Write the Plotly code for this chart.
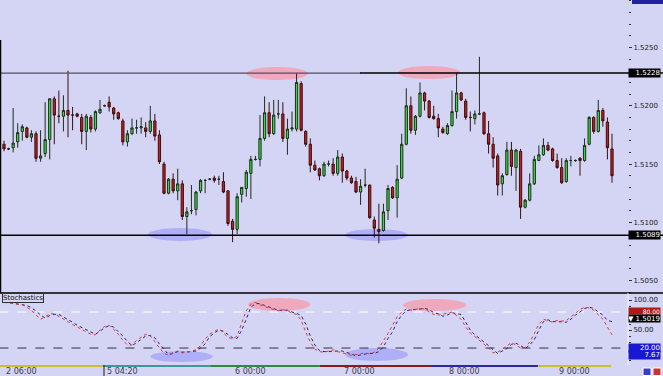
import plotly.graph_objects as go

# ---------------- data ----------------
open_ = [1.5167,1.5163,1.5164,1.5169,1.5178,1.5181,1.5173,1.5176,1.5155,1.5159,1.5171,1.5206,1.5191,1.5191,1.5196,1.5192,1.5193,1.5190,1.5178,1.5190,
         1.5180,1.5194,1.5200,1.5203,1.5198,1.5194,1.5187,1.5169,1.5176,1.5181,1.5181,1.5181,1.5178,1.5187,1.5175,1.5150,1.5125,1.5137,1.5127,1.5133,
         1.5105,1.5110,1.5111,1.5127,1.5136,1.5137,1.5138,1.5137,1.5135,1.5127,1.5101,1.5094,1.5124,1.5129,1.5142,1.5154,1.5154,1.5172,1.5194,1.5176,
         1.5193,1.5193,1.5172,1.5180,1.5180,1.5219,1.5178,1.5167,1.5149,1.5146,1.5140,1.5150,1.5150,1.5142,1.5156,1.5144,1.5138,1.5135,1.5126,1.5132,
         1.5132,1.5102,1.5094,1.5093,1.5110,1.5130,1.5121,1.5138,1.5167,1.5200,1.5179,1.5191,1.5211,1.5204,1.5191,1.5189,1.5180,1.5176,1.5183,1.5195,
         1.5211,1.5204,1.5190,1.5189,1.5193,1.5194,1.5176,1.5167,1.5157,1.5133,1.5141,1.5162,1.5147,1.5161,1.5113,1.5119,1.5133,1.5153,1.5158,1.5166,
         1.5163,1.5153,1.5147,1.5135,1.5153,1.5153,1.5155,1.5153,1.5167,1.5190,1.5178,1.5196,1.5186,1.5163]
high = [1.5170,1.5164,1.5198,1.5185,1.5184,1.5182,1.5179,1.5178,1.5179,1.5203,1.5206,1.5208,1.5213,1.5209,1.5230,1.5199,1.5194,1.5193,1.5193,1.5192,
        1.5196,1.5205,1.5201,1.5208,1.5199,1.5195,1.5189,1.5179,1.5189,1.5188,1.5190,1.5186,1.5200,1.5193,1.5179,1.5152,1.5138,1.5142,1.5146,1.5136,
        1.5113,1.5132,1.5127,1.5137,1.5137,1.5138,1.5140,1.5140,1.5143,1.5127,1.5103,1.5125,1.5130,1.5145,1.5157,1.5157,1.5192,1.5208,1.5203,1.5205,
        1.5205,1.5203,1.5189,1.5195,1.5228,1.5221,1.5179,1.5172,1.5153,1.5147,1.5152,1.5153,1.5155,1.5162,1.5159,1.5145,1.5140,1.5139,1.5137,1.5146,
        1.5132,1.5105,1.5116,1.5116,1.5132,1.5131,1.5149,1.5176,1.5215,1.5208,1.5192,1.5220,1.5212,1.5205,1.5200,1.5193,1.5182,1.5185,1.5213,1.5228,
        1.5212,1.5206,1.5195,1.5196,1.5242,1.5195,1.5187,1.5173,1.5159,1.5142,1.5169,1.5169,1.5163,1.5163,1.5120,1.5142,1.5157,1.5166,1.5172,1.5169,
        1.5164,1.5159,1.5155,1.5155,1.5157,1.5154,1.5156,1.5172,1.5191,1.5191,1.5205,1.5198,1.5190,1.5176]
low = [1.5161,1.5162,1.5160,1.5164,1.5170,1.5172,1.5169,1.5152,1.5152,1.5156,1.5154,1.5167,1.5185,1.5178,1.5173,1.5179,1.5190,1.5167,1.5162,1.5177,
       1.5178,1.5193,1.5199,1.5195,1.5188,1.5188,1.5166,1.5165,1.5175,1.5176,1.5176,1.5173,1.5176,1.5170,1.5150,1.5124,1.5124,1.5125,1.5119,1.5102,
       1.5090,1.5107,1.5106,1.5125,1.5125,1.5136,1.5134,1.5132,1.5125,1.5097,1.5083,1.5090,1.5117,1.5122,1.5120,1.5153,1.5148,1.5170,1.5173,1.5175,
       1.5189,1.5169,1.5158,1.5178,1.5178,1.5178,1.5165,1.5143,1.5144,1.5136,1.5139,1.5148,1.5140,1.5140,1.5134,1.5136,1.5133,1.5125,1.5115,1.5130,
       1.5103,1.5087,1.5082,1.5092,1.5102,1.5120,1.5104,1.5137,1.5166,1.5176,1.5175,1.5190,1.5196,1.5189,1.5188,1.5173,1.5176,1.5175,1.5182,1.5189,
       1.5204,1.5188,1.5178,1.5184,1.5192,1.5175,1.5159,1.5147,1.5123,1.5123,1.5140,1.5140,1.5127,1.5103,1.5112,1.5118,1.5132,1.5153,1.5157,1.5161,
       1.5152,1.5146,1.5133,1.5134,1.5148,1.5152,1.5140,1.5152,1.5166,1.5176,1.5177,1.5182,1.5154,1.5134]
close = [1.5163,1.5163,1.5168,1.5177,1.5182,1.5173,1.5176,1.5155,1.5157,1.5171,1.5206,1.5192,1.5191,1.5196,1.5192,1.5192,1.5191,1.5178,1.5191,1.5180,
         1.5195,1.5197,1.5200,1.5199,1.5193,1.5189,1.5169,1.5176,1.5181,1.5181,1.5182,1.5178,1.5187,1.5174,1.5152,1.5125,1.5137,1.5127,1.5133,1.5105,
         1.5109,1.5110,1.5126,1.5136,1.5136,1.5137,1.5136,1.5137,1.5126,1.5099,1.5094,1.5122,1.5130,1.5143,1.5154,1.5154,1.5172,1.5194,1.5176,1.5192,
         1.5193,1.5172,1.5180,1.5181,1.5220,1.5179,1.5167,1.5149,1.5145,1.5140,1.5150,1.5150,1.5142,1.5156,1.5144,1.5138,1.5134,1.5126,1.5131,1.5132,
         1.5104,1.5095,1.5092,1.5109,1.5129,1.5121,1.5137,1.5167,1.5200,1.5179,1.5191,1.5211,1.5204,1.5190,1.5189,1.5181,1.5177,1.5183,1.5195,1.5211,
         1.5205,1.5190,1.5190,1.5193,1.5193,1.5176,1.5167,1.5155,1.5132,1.5140,1.5162,1.5148,1.5162,1.5113,1.5119,1.5133,1.5154,1.5158,1.5166,1.5162,
         1.5153,1.5147,1.5134,1.5153,1.5153,1.5153,1.5153,1.5166,1.5190,1.5178,1.5196,1.5187,1.5164,1.5140]

stoch_blue = [97,96,95,94,93,91,87,82,75,70,74,76,76,72,68,63,58,54,50,46,
              43,48,54,57,55,47,40,31,24,29,34,40,41,37,27,18,9,11,14,13,
              13,14,15,20,27,39,45,50,48,42,37,36,50,68,88,94,94,91,88,86,
              83,83,83,80,78,74,60,40,25,16,14,14,15,15,15,13,10,7,9,10,
              11,11,14,22,36,47,64,75,82,84,84,85,86,84,79,77,73,75,79,77,
              76,63,50,42,36,31,24,17,11,15,19,26,28,24,19,25,34,50,64,67,
              64,64,64,63,68,75,80,86,88,86,80,75,66,64]
stoch_red = [96,95,94,93,92,88,83,75,68,72,77,77,73,69,64,59,55,51,46,43,
             42,50,56,58,51,43,33,25,25,33,38,43,40,31,20,11,8,13,15,12,
             13,15,17,24,35,43,48,52,45,38,35,40,62,82,93,96,92,89,87,84,
             82,84,82,78,76,66,47,30,18,14,13,15,17,14,12,9,8,9,11,12,
             10,13,20,31,44,58,72,80,85,83,85,86,85,81,76,75,76,78,80,74,
             68,55,45,39,33,27,20,12,13,18,24,29,25,20,21,30,44,60,68,65,
             63,66,65,66,72,78,84,88,87,83,76,68,55,42]

time_pos = [0, 22, 50, 74, 97, 121]
time_labels = ["2 06:00", "5 04:20", "6 00:00", "7 00:00", "8 00:00", "9 00:00"]

resistance = 1.5228
support = 1.5089
stoch_levels = [80, 20]

# day strip (candle-index boundaries) and colours
strip_edges = [-0.9, 21.7, 45.1, 69.1, 93.4, 116.8, 132.8]
strip_colors = ["#C8C030", "#3A9A9A", "#2E8B3E", "#8B1A1A", "#2A2A9A", "#C8C030"]

# highlight ellipses: (x0, x1, y0, y1) in candle index / price / stochastic units
tops_main = [(53, 66.5, 1.52220, 1.52332), (86.2, 99.8, 1.52229, 1.52341)]
bottoms_main = [(31.5, 45.5, 1.50840, 1.50951), (74.6, 88.4, 1.50840, 1.50943)]
tops_stoch = [(53.4, 67, 81.7, 103.3), (87.3, 101.1, 81.7, 101.7)]
bottoms_stoch = [(32, 45.7, -3.3, 15), (74.6, 88.4, -1.7, 20)]

# ---------------- figure ----------------
BG = "#D4D4F4"
W, H = 663, 376
XR = 628 / W
idx = list(range(len(open_)))

fig = go.Figure()
fig.add_trace(go.Candlestick(
    x=idx, open=open_, high=high, low=low, close=close,
    increasing=dict(fillcolor="#33E033", line=dict(color="#1E2E1E", width=1)),
    decreasing=dict(fillcolor="#C41E1E", line=dict(color="#3A1010", width=1)),
    whiskerwidth=0, showlegend=False, xaxis="x", yaxis="y"))

fig.add_trace(go.Scatter(x=idx, y=stoch_blue, mode="lines",
                         line=dict(color="#22228A", width=1, dash="dot"),
                         showlegend=False, xaxis="x2", yaxis="y2"))
fig.add_trace(go.Scatter(x=idx, y=stoch_red, mode="lines",
                         line=dict(color="#E03A2A", width=1, dash="dot"),
                         showlegend=False, xaxis="x2", yaxis="y2"))

shapes = []
# ellipses
for (x0, x1, y0, y1) in tops_main:
    shapes.append(dict(type="circle", xref="x", yref="y", x0=x0, x1=x1, y0=y0, y1=y1,
                       fillcolor="rgba(255,140,150,0.6)", line=dict(width=0), layer="below"))
for (x0, x1, y0, y1) in bottoms_main:
    shapes.append(dict(type="circle", xref="x", yref="y", x0=x0, x1=x1, y0=y0, y1=y1,
                       fillcolor="rgba(150,150,250,0.6)", line=dict(width=0), layer="below"))
for (x0, x1, y0, y1) in tops_stoch:
    shapes.append(dict(type="circle", xref="x2", yref="y2", x0=x0, x1=x1, y0=y0, y1=y1,
                       fillcolor="rgba(255,140,150,0.6)", line=dict(width=0), layer="below"))
for (x0, x1, y0, y1) in bottoms_stoch:
    shapes.append(dict(type="circle", xref="x2", yref="y2", x0=x0, x1=x1, y0=y0, y1=y1,
                       fillcolor="rgba(150,150,250,0.6)", line=dict(width=0), layer="below"))

# resistance line: grey on the left part, black on the right part
shapes.append(dict(type="line", xref="x", yref="y", x0=-1, x1=78, y0=resistance, y1=resistance,
                   line=dict(color="#505060", width=1.2)))
shapes.append(dict(type="line", xref="paper", yref="y", x0=360 / W, x1=1, y0=resistance, y1=resistance,
                   line=dict(color="#000000", width=1.5)))
# support line
shapes.append(dict(type="line", xref="paper", yref="y", x0=0, x1=1, y0=support, y1=support,
                   line=dict(color="#000000", width=1.5)))
# stochastic levels
shapes.append(dict(type="line", xref="x2", yref="y2", x0=-1, x1=136.5, y0=stoch_levels[0], y1=stoch_levels[0],
                   line=dict(color="#FFFFFF", width=1, dash="dash"), layer="below"))
shapes.append(dict(type="line", xref="x2", yref="y2", x0=-1, x1=136.5, y0=stoch_levels[1], y1=stoch_levels[1],
                   line=dict(color="#303040", width=1, dash="dash"), layer="below"))
# panel separators
y_sep = 1 - 293 / H
shapes.append(dict(type="line", xref="paper", yref="paper", x0=0, x1=1, y0=y_sep, y1=y_sep,
                   line=dict(color="#000000", width=1.5)))
shapes.append(dict(type="line", xref="paper", yref="paper", x0=0.5 / W, x1=0.5 / W, y0=y_sep, y1=1 - 40 / H,
                   line=dict(color="#000000", width=1.5)))
shapes.append(dict(type="line", xref="paper", yref="paper", x0=XR, x1=XR, y0=1 - 365 / H, y1=y_sep,
                   line=dict(color="#F4F4FF", width=1)))
# day colour strip
for i, c in enumerate(strip_colors):
    shapes.append(dict(type="rect", xref="x2", yref="paper", x0=strip_edges[i], x1=strip_edges[i + 1],
                       y0=1 - 367 / H, y1=1 - 365 / H, fillcolor=c, line=dict(width=0)))
shapes.append(dict(type="line", xref="paper", yref="paper", x0=104 / W, x1=104 / W, y0=0, y1=1 - 365 / H,
                   line=dict(color="#202020", width=1)))
# top-right blue tag and bottom-right icons
shapes.append(dict(type="rect", xref="paper", yref="paper", x0=632 / W, x1=1, y0=1 - 4 / H, y1=1,
                   fillcolor="#2020A0", line=dict(width=0)))
shapes.append(dict(type="rect", xref="paper", yref="paper", x0=643 / W, x1=651 / W, y0=0.5 / H, y1=8 / H,
                   fillcolor="#3A3AD0", line=dict(color="#FFFFFF", width=1)))
shapes.append(dict(type="rect", xref="paper", yref="paper", x0=653 / W, x1=661 / W, y0=0.5 / H, y1=8 / H,
                   fillcolor="#D03030", line=dict(color="#FFFFFF", width=1)))

font = dict(family="DejaVu Sans", size=7, color="#202020")
ann = []
for p, t in zip(time_pos, time_labels):
    ann.append(dict(x=p, y=1 - 371 / H, xref="x2", yref="paper", text=t, showarrow=False,
                    xanchor="left", yanchor="middle", font=dict(family="DejaVu Sans", size=8, color="#404048")))


def tag(y, yref, text, bg, h=8, size=7, fg="#FFFFFF"):
    ann.append(dict(x=XR, y=y, xref="paper", yref=yref, text=text, showarrow=False,
                    xanchor="left", yanchor="middle", bgcolor=bg, width=31, height=h, borderpad=0,
                    align="right", font=dict(family="DejaVu Sans", size=size, color=fg)))


tag(resistance, "y", "1.5228", "#000000")
tag(support, "y", "1.5089", "#000000")
tag(1 - 310.5 / H, "paper", "80.00", "#B01818", h=6, size=6)
tag(1 - 318 / H, "paper", "▼ 1.5019", "#000000", h=7, size=7)
tag(20, "y2", "20.00", "#1818D0")
tag(7.67, "y2", "7.67", "#1818D0")
ann.append(dict(x=2 / W, y=1 - 297.5 / H, xref="paper", yref="paper", text="Stochastics", showarrow=False,
                xanchor="left", yanchor="middle", bgcolor=BG, bordercolor="#303030", borderwidth=1, borderpad=0,
                font=dict(family="DejaVu Sans", size=7, color="#101010")))

fig.update_layout(
    width=W, height=H, margin=dict(l=0, r=0, t=0, b=0, autoexpand=False),
    paper_bgcolor=BG, plot_bgcolor=BG, showlegend=False,
    xaxis=dict(domain=[0, XR], range=[-0.875, 136.5], showgrid=False, zeroline=False,
               showticklabels=False, ticks="", rangeslider=dict(visible=False), anchor="y"),
    xaxis2=dict(domain=[0, XR], range=[-0.875, 136.5], showgrid=False, zeroline=False,
                showticklabels=False, ticks="", anchor="y2", matches="x"),
    yaxis=dict(domain=[1 - 293 / H, 1], range=[1.50394, 1.52907], side="right", anchor="x",
               showgrid=False, zeroline=False, tickvals=[1.5050, 1.5100, 1.5150, 1.5200, 1.5250],
               ticktext=["1.5050", "1.5100", "1.5150", "1.5200", "1.5250"],
               ticks="outside", ticklen=3, tickcolor="#303030", tickfont=font, automargin=False,
               minor=dict(dtick=0.001, tick0=1.5, ticks="outside", ticklen=2, tickcolor="#303030")),
    yaxis2=dict(domain=[1 - 365 / H, 1 - 293 / H], range=[-8.3, 111.7], side="right", anchor="x2",
                showgrid=False, zeroline=False, tickvals=[100, 50], ticktext=["100.00", "50.00"],
                ticks="outside", ticklen=3, tickcolor="#303030", tickfont=font, automargin=False,
                minor=dict(tickvals=[90, 80, 70, 60, 40, 30, 20, 10, 0], ticks="outside", ticklen=2,
                           tickcolor="#303030")),
    shapes=shapes, annotations=ann,
)

fig.write_html("out.html", config={"displayModeBar": False},
               post_script="document.body.style.margin='0';document.body.style.padding='0';")
